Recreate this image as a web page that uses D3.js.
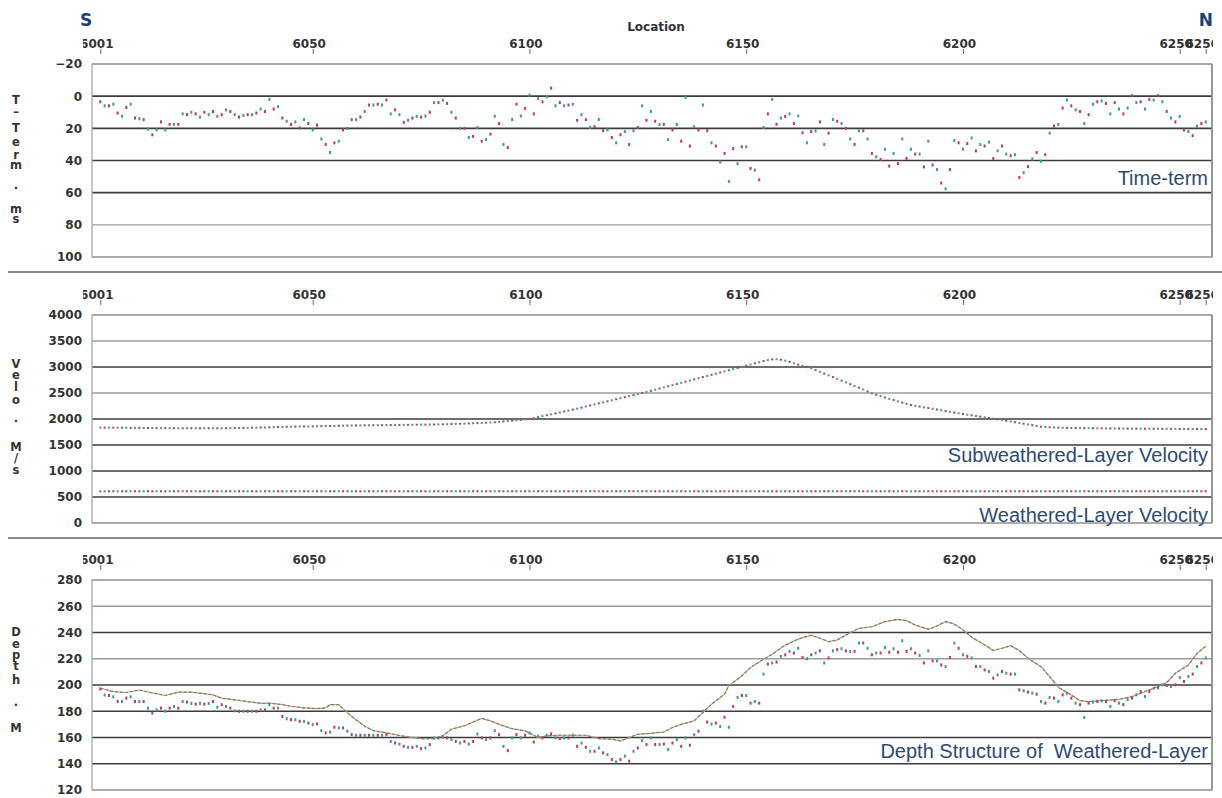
<!DOCTYPE html>
<html><head><meta charset="utf-8">
<script src="https://cdn.jsdelivr.net/npm/d3@7"></script>
<style>
html,body{margin:0;padding:0;background:#fff;}
svg{display:block;}
</style></head><body>
<svg id="chart" width="1222" height="798"></svg>
<script>
// ---------------- DATA ----------------
const stations = d3.range(6001, 6257);
const xTicks = [6001, 6050, 6100, 6150, 6200, 6250, 6256];
const timeTermTicks = [-20, 0, 20, 40, 60, 80, 100];
const velocityTicks = [0, 500, 1000, 1500, 2000, 2500, 3000, 3500, 4000];
const depthTicks = [120, 140, 160, 180, 200, 220, 240, 260, 280];

// Time-term (ms) per station 6001..6256
const timeTerm = [
3.5,6,6,5,10.5,12.5,7,5,13.6,14,
14.6,20.5,24,21,16,21,17.5,17.5,17.5,11,
11.5,10,11,13,10,11.5,9.5,12.5,11.5,8.5,
9.5,11.5,13,12,11.5,11.5,10.5,8,9.5,2,
8,6.5,13.6,15.6,17.6,16,19.7,14.6,17,21,
18,26.6,30,35,29,28,21,20,14.6,14.6,
13,9.5,5.5,5.5,5,5.5,2.4,11,8.5,11.5,
16.3,15,13.6,12.6,13,12.3,10,4,4,2.5,
4.5,10,13.6,20,20,25.7,25,19.5,28,27,
23.6,12.5,17,30,31.9,14.5,5,12.3,7.6,-0.6,
11,1.5,3.5,0.4,-5,6,4,6,5.5,5,
15,11.5,14.6,19.5,19,14.5,21.5,21,25.7,29,
24,22,30,21.5,19.5,6,15,9.5,15.6,17.6,
17.6,27,21,17.6,28,0.8,31,19,21,5.5,
21.5,29,31,41,35.6,53,32.6,42,31.5,31.5,
45,46,52,19.5,11,2,17.5,13.6,12.6,11,
17,12.3,22.8,29,22,21.6,16,30,23,14.6,
15.6,17,20,26.6,30,21.5,21.5,26.6,35.6,37.7,
39.4,33,43.5,35.6,41.9,26.6,38.7,33,36,36,
44,28,42.8,45.6,54,57.6,45.6,27.6,29,33,
29.5,26,34,30,31,28.6,38.7,34,31,36,
37,36.4,50.6,47.6,43.8,39,35,40.5,36.4,23,
18.6,17.6,7.4,2.4,6,8.5,9.5,17,11.5,5,
3.5,3,4.5,11,4,8,11,7.4,-0.3,4,
3.5,8,2,2.4,-0.3,3.5,9.5,13.6,16,12.6,
21,22,24.6,18.6,17,16];

// Subweathered-layer velocity (m/s) per station
const subVelocity = [
1835,1835,1834,1834,1833,1832,1832,1831,1830,1830,
1828,1827,1826,1825,1824,1823,1822,1822,1822,1822,
1822,1822,1822,1822,1822,1822,1822,1822,1822,1823,
1824,1825,1826,1828,1830,1832,1834,1836,1838,1840,
1842,1845,1848,1850,1852,1854,1855,1856,1857,1858,
1860,1862,1864,1866,1868,1870,1872,1874,1875,1876,
1877,1878,1879,1880,1881,1882,1883,1884,1885,1886,
1887,1888,1889,1890,1891,1892,1893,1894,1896,1898,
1900,1903,1906,1909,1912,1915,1918,1921,1924,1928,
1932,1938,1945,1952,1960,1968,1976,1984,1992,2000,
2018,2036,2054,2072,2090,2108,2126,2144,2162,2180,
2200,2220,2240,2260,2280,2300,2320,2340,2360,2380,
2400,2420,2440,2460,2480,2500,2520,2542,2564,2586,
2608,2630,2652,2674,2696,2718,2740,2762,2784,2806,
2828,2850,2872,2894,2916,2938,2960,2982,3004,3026,
3048,3070,3092,3114,3132,3146,3150,3140,3122,3098,
3072,3046,3020,2998,2975,2942,2908,2874,2840,2806,
2772,2738,2704,2670,2636,2602,2568,2530,2494,2466,
2440,2414,2388,2364,2340,2316,2292,2269,2254,2239,
2224,2210,2196,2182,2167,2152,2138,2123,2109,2096,
2083,2070,2058,2045,2032,2019,2006,1994,1981,1967,
1952,1938,1924,1909,1895,1881,1866,1852,1846,1841,
1837,1834,1831,1829,1827,1826,1825,1824,1823,1822,
1821,1821,1820,1819,1818,1817,1816,1815,1815,1814,
1814,1813,1813,1812,1812,1811,1811,1810,1810,1810,
1809,1809,1809,1808,1808,1808];

// Weathered-layer velocity (m/s) per station
const weatheredVelocity = [
610,610,610,610,610,610,610,610,610,610,610,610,610,610,610,610,610,610,610,610,
610,610,610,610,610,610,610,610,610,610,610,610,610,610,610,610,610,610,610,610,
610,610,610,610,610,610,610,610,610,610,610,610,610,610,610,610,610,610,610,610,
610,610,610,610,610,610,610,610,610,610,610,610,610,610,610,610,610,610,610,610,
610,610,610,610,610,610,610,610,610,610,610,610,610,610,610,610,610,610,610,610,
610,610,610,610,610,610,610,610,610,610,610,610,610,610,610,610,610,610,610,610,
610,610,610,610,610,610,610,610,610,610,610,610,610,610,610,610,610,610,610,610,
610,610,610,610,610,610,610,610,610,610,610,610,610,610,610,610,610,610,610,610,
610,610,610,610,610,610,610,610,610,610,610,610,610,610,610,610,610,610,610,610,
610,610,610,610,610,610,610,610,610,610,610,610,610,610,610,610,610,610,610,610,
610,610,610,610,610,610,610,610,610,610,610,610,610,610,610,610,610,610,610,610,
610,610,610,610,610,610,610,610,610,610,610,610,610,610,610,610,610,610,610,610,
610,610,610,610,610,610,610,610,610,610,610,610,610,610,610,610];

// Base of weathered layer (m) per station
const baseDepth = [
197,192.4,192,191,187.4,187.4,190,191,187.4,187.4,
187.4,182.4,178.6,181,182.4,180,182.4,183.6,182.4,187.4,
187,186,185.4,186,185.4,186,187.4,183,185,183.6,
182.4,180.4,180,180,180,180,180,181,181,185,
182.4,182.4,176,174.3,173.6,173.6,172.3,172.3,171,169.8,
170.3,165.2,163.5,164.2,167.8,167.3,167.3,164.8,162.2,161.7,
161.7,161.7,161.7,161.7,161.7,161.7,162.2,157,155.8,155,
153.3,152.5,152.5,153.3,151.5,152,154.6,159.7,159.7,160.2,
159.7,158.4,157,155.8,157,155,157,162.7,159.7,158.4,
159.7,165.2,162.2,153.3,150,159.7,162.2,159.7,161.7,163.5,
156.6,161,159.7,161.7,162.7,159.7,159.2,159.7,159.7,161.7,
153.3,155.8,152.5,149.5,149.5,152,148.3,147,143.2,141.4,
143.2,145.8,142,149.5,152,157.6,154.6,159.7,154.6,154.6,
155,150.8,155.8,158.4,153.3,159.7,154.1,162.2,164.8,180,
171.8,170.3,171,168.5,175.4,167.8,183.6,190.5,192,192,
186.2,187.4,186.2,208.3,216,216.8,217.5,221.8,223,225.6,
224.4,228,221,220,223,224.4,226,216.8,220.6,226,
227,227.6,226,225.6,225.6,232,232,228,223,224.4,
224.4,228.6,225,227.6,225,233.7,225.6,227.6,224.4,222.5,
216.8,226,218.4,218.4,215.3,214,221,232,228,223,
221.8,220.6,214,214,211.5,210.3,205.2,207.7,210.3,209,
208.3,208.3,196.3,195.6,194.6,193.8,193,187.4,186.2,190.5,
190,187.4,192.5,193.8,190,186.2,185,175.3,186.2,187,
187.4,188,187.4,183.6,188,186.2,185,188.8,190,192.5,
195,191.2,195,197.6,198,200.1,199.6,198.8,200.1,205.7,
202.7,206.5,208.3,214,216.8,220.6];

// Surface elevation (m), read at these stations
const surfaceStations = [6001,6004,6007,6010,6013,6016,6019,6022,6024,6027,6029,6032,6035,6038,6040,6043,6045,6048,6051,6053,6054,6056,6057,6059,6061,6062,6064,6067,6070,6073,6075,6078,6080,6082,6085,6089,6091,6093,6096,6099,6102,6104,6107,6110,6113,6116,6119,6121,6122,6125,6128,6131,6133,6135,6138,6140,6142,6145,6146,6149,6151,6154,6156,6159,6162,6165,6167,6169,6171,6173,6176,6179,6182,6185,6187,6189,6192,6194,6196,6198,6200,6202,6205,6207,6209,6211,6213,6215,6218,6220,6222,6225,6227,6229,6232,6236,6239,6242,6245,6247,6249,6252,6254,6256];
const surfaceElev = [197.5,195,194.3,196.2,194,192,194.5,194.5,193.8,192.5,190,188.7,187.4,186,186.2,185,183.8,182.6,182,182.6,185,185,181.8,176,171,168.5,165.2,163.5,161.5,160,159.2,159.2,161.2,166.3,169,174.5,172.7,170,166.7,165,160,161.2,161.7,161.7,161.7,159.2,158.7,157.4,158.7,162.5,163.2,164.2,167.6,170,172.7,179,185.4,193,199.4,207,213.3,219.7,223.5,230.4,235,238,235.6,233,234.3,238.1,243.2,244.4,248.3,250,249,245.7,242.4,245,248.3,246.5,242,236.4,230.6,226.3,228,229.9,226.3,220.4,214,206.4,198.3,192.4,188.1,187.3,188.1,189.1,191.2,195,198.8,201.8,208.9,215.2,224.1,229.6];

// ---------------- LAYOUT / STYLE ----------------
const PL = 92, PR = 1212;
const RED = '#c5355c', GREEN = '#35a083';
const TXT = '#333';
const LBL = '#2d4a72';
const svg = d3.select('#chart');
const x = d3.scaleLinear().domain([6001, 6256]).range([100.3, 1205.7]);
const colorAt = i => (i % 2 === 0 ? RED : GREEN);

const defs = svg.append('defs');
defs.append('clipPath').attr('id', 'tickclip').append('rect')
  .attr('x', 83).attr('y', 0).attr('width', 1213 - 83).attr('height', 798);

const panels = [
  {id: 'p1', top: 64, bottom: 257, domain: [-20, 100], range: [64, 257], ticks: timeTermTicks,
   dark: [0, 20, 40, 60], title: ['T','\u2013','T','e','r','m','\u00b7','m','s'],
   titleY: [104,116,132,146,159,169,192,213,223]},
  {id: 'p2', top: 315, bottom: 523, domain: [0, 4000], range: [523, 315], ticks: velocityTicks,
   dark: [500, 1000, 1500, 2000, 3000], title: ['V','e','l','o','\u00b7','M','/','s'],
   titleY: [368,379,391,404,425,451,462,474]},
  {id: 'p3', top: 580, bottom: 790, domain: [120, 280], range: [790, 580], ticks: depthTicks,
   dark: [140, 160, 180, 200, 240], title: ['D','e','p','t','h','\u00b7','M'],
   titleY: [636,648,659,670,684,709,732]}
];

// separators
[272, 538].forEach(yy => svg.append('line').attr('x1', 8).attr('x2', 1222)
  .attr('y1', yy).attr('y2', yy).attr('stroke', '#8a8a8a').attr('stroke-width', 2));

// header
svg.append('text').attr('x', 80).attr('y', 26).text('S')
  .attr('font-family', 'DejaVu Sans').attr('font-weight', 'bold').attr('font-size', 17).attr('fill', '#1f3d78');
svg.append('text').attr('x', 1213).attr('y', 26).attr('text-anchor', 'end').text('N')
  .attr('font-family', 'DejaVu Sans').attr('font-weight', 'bold').attr('font-size', 17).attr('fill', '#1f3d78');
svg.append('text').attr('x', 656).attr('y', 31).attr('text-anchor', 'middle').text('Location')
  .attr('font-family', 'DejaVu Sans').attr('font-weight', 'bold').attr('font-size', 12).attr('fill', TXT);

panels.forEach(p => {
  const y = d3.scaleLinear().domain(p.domain).range(p.range);
  p.y = y;
  const g = svg.append('g');
  defs.append('clipPath').attr('id', 'clip-' + p.id).append('rect')
    .attr('x', PL).attr('y', p.top - 2).attr('width', PR - PL).attr('height', p.bottom - p.top + 4);

  g.selectAll('line.grid').data(p.ticks).join('line').attr('class', 'grid')
    .attr('x1', PL).attr('x2', PR).attr('y1', d => y(d)).attr('y2', d => y(d))
    .attr('stroke', d => p.dark.includes(d) ? '#3c3c3c' : '#9c9c9c')
    .attr('stroke-width', d => p.dark.includes(d) ? 1.6 : 1.3);
  g.append('rect').attr('x', PL).attr('y', p.top).attr('width', PR - PL).attr('height', p.bottom - p.top)
    .attr('fill', 'none').attr('stroke', '#a6a6a6').attr('stroke-width', 1.3);
  g.append('line').attr('x1', PR).attr('x2', PR).attr('y1', p.top).attr('y2', p.bottom)
    .attr('stroke', '#8c8c8c').attr('stroke-width', 1.6);

  const ya = g.append('g').attr('transform', `translate(${PL - 10},0)`)
    .call(d3.axisLeft(y).tickValues(p.ticks).tickSize(0).tickPadding(0).tickFormat(d3.format('d')));
  ya.select('.domain').remove();
  ya.selectAll('text').attr('font-family', 'DejaVu Sans').attr('font-weight', 'bold')
    .attr('font-size', 12).attr('fill', TXT);

  const xaWrap = g.append('g').attr('clip-path', 'url(#tickclip)');
  const xa = xaWrap.append('g').attr('transform', `translate(0,${p.top - 10})`)
    .call(d3.axisTop(x).tickValues(xTicks).tickSize(5).tickPadding(1).tickFormat(d3.format('d')));
  xa.select('.domain').remove();
  xa.selectAll('line').attr('stroke', '#666');
  xa.selectAll('text').attr('dx', -4).attr('font-family', 'DejaVu Sans').attr('font-weight', 'bold')
    .attr('font-size', 12).attr('fill', TXT);

  const tg = g.append('g').attr('font-family', 'DejaVu Sans').attr('font-weight', 'bold')
    .attr('font-size', 11.5).attr('fill', TXT).attr('text-anchor', 'middle');
  tg.selectAll('text').data(p.title).join('text').attr('x', 16)
    .attr('y', (d, i) => p.titleY[i]).text(d => d);

  p.data = g.append('g').attr('clip-path', `url(#clip-${p.id})`);
});

// Panel 1: time-term
const P1 = panels[0];
P1.data.selectAll('rect.tt').data(timeTerm).join('rect').attr('class', 'tt')
  .attr('x', (d, i) => x(stations[i]) - 1).attr('y', d => P1.y(d) - 1.5)
  .attr('width', 2).attr('height', 3).attr('fill', (d, i) => colorAt(i));

// Panel 2: velocities
const P2 = panels[1];
P2.data.selectAll('rect.sv').data(subVelocity).join('rect').attr('class', 'sv')
  .attr('x', (d, i) => x(stations[i]) - 1).attr('y', d => P2.y(d) - 1)
  .attr('width', 2).attr('height', 2).attr('fill', (d, i) => colorAt(i + 1));
P2.data.selectAll('rect.wv').data(weatheredVelocity).join('rect').attr('class', 'wv')
  .attr('x', (d, i) => x(stations[i]) - 1).attr('y', d => P2.y(d) - 1)
  .attr('width', 2).attr('height', 2).attr('fill', (d, i) => (i % 3 === 1 ? GREEN : RED));

// Panel 3: depth
const P3 = panels[2];
const surf = surfaceStations.map((s, i) => [s, surfaceElev[i]]);
const line = d3.line().x(d => x(d[0])).y(d => P3.y(d[1]));
P3.data.append('path').attr('d', line(surf)).attr('fill', 'none')
  .attr('stroke', '#8fbfa0').attr('stroke-width', 1.2);
P3.data.append('path').attr('d', line(surf)).attr('fill', 'none')
  .attr('stroke', '#b06a4c').attr('stroke-width', 1.2).attr('stroke-dasharray', '3,2');
P3.data.selectAll('rect.bd').data(baseDepth).join('rect').attr('class', 'bd')
  .attr('x', (d, i) => x(stations[i]) - 1).attr('y', d => P3.y(d) - 1.5)
  .attr('width', 2).attr('height', 3).attr('fill', (d, i) => colorAt(i));

// Panel labels
const labels = [
  {t: 'Time-term', y: 185},
  {t: 'Subweathered-Layer Velocity', y: 462},
  {t: 'Weathered-Layer Velocity', y: 522},
  {t: 'Depth Structure of  Weathered-Layer', y: 758}
];
svg.append('g').selectAll('text').data(labels).join('text')
  .attr('x', 1208).attr('y', d => d.y).attr('text-anchor', 'end')
  .attr('font-family', 'Liberation Sans, Arial, sans-serif').attr('font-size', 20)
  .attr('fill', LBL).style('white-space', 'pre').text(d => d.t);
</script>
</body></html>
